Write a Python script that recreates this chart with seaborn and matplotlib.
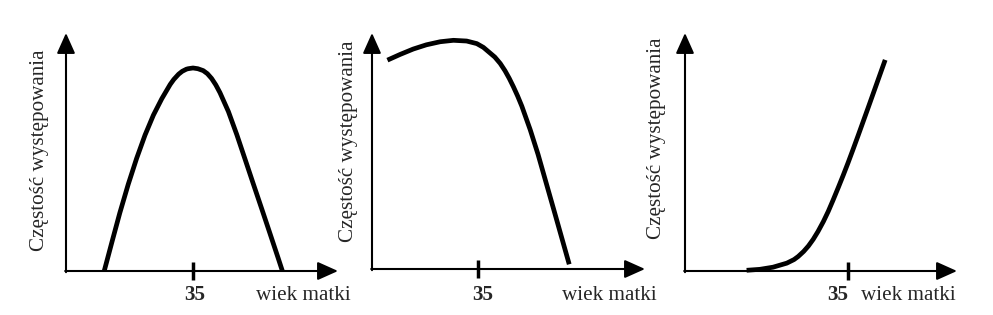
import matplotlib
matplotlib.use("Agg")
import matplotlib.pyplot as plt
import seaborn as sns
import pandas as pd

# ---------------- data (age of mother vs. frequency, arbitrary units) ----------------
age1 = [20.2, 21.5, 22.8, 24.2, 25.6, 27.0, 28.4, 29.8, 31.2, 31.8, 32.6, 33.2,
        33.9, 34.2, 35.0, 35.8, 36.7, 37.4, 38.1, 38.8, 39.5, 40.9, 42.3, 43.7,
        45.0, 46.5, 47.8, 49.2, 49.9]
freq1 = [0.0, 12.3, 24.4, 36.4, 47.3, 57.1, 65.5, 72.4, 78.4, 80.5, 82.7, 83.9,
         84.8, 85.0, 85.3, 85.0, 84.2, 82.9, 80.9, 78.2, 74.9, 67.0, 57.3, 46.8,
         37.0, 25.8, 16.0, 5.4, 0.0]

age2 = [19.9, 22.0, 24.2, 26.4, 28.7, 30.9, 33.1, 34.8, 35.9, 37.8, 38.7, 39.5,
        40.2, 40.9, 41.6, 42.3, 43.7, 45.0, 46.4, 47.8, 49.2, 50.2]
freq2 = [88.5, 90.9, 93.2, 95.0, 96.3, 96.9, 96.6, 95.5, 93.9, 89.8, 87.1, 84.0,
         80.8, 77.2, 73.3, 69.0, 59.0, 48.6, 36.1, 23.6, 11.0, 2.0]

age3 = [18.1, 20.3, 22.5, 24.8, 26.0, 26.7, 27.6, 28.4, 29.2, 30.0, 30.9, 31.7,
        32.5, 33.4, 34.2, 35.0, 35.8, 36.7, 38.4, 39.8, 41.2]
freq3 = [0.3, 0.7, 1.6, 3.3, 4.8, 6.1, 8.2, 10.5, 13.3, 16.6, 20.8, 25.0,
         29.7, 35.2, 40.2, 45.4, 50.8, 57.0, 68.9, 78.8, 88.7]

tick_value = 35
tick_label = "35"
x_label = "wiek matki"
y_label = "Częstość występowania"

# ---------------- style ----------------
sns.set_style("white")
plt.rcParams["font.family"] = ["Liberation Serif", "DejaVu Serif"]

W, H = 993, 315
fig = plt.figure(figsize=(W / 100, H / 100), dpi=100)
fig.patch.set_facecolor("white")


def fx(px):
    return px / W


def fy(py):
    return 1 - py / H


# layout per panel: (left px, right px, bottom px, top px, xlim,
#                    y-label centre, "35" centre x, x-label left x)
layout = [
    dict(box=(66, 338, 271, 33), xlim=(13.83, 59.17), ylab=(40, 150), num_x=195, xlab_x=256),
    dict(box=(372, 645, 269, 33), xlim=(17.33, 62.83), ylab=(349, 141), num_x=483, xlab_x=562),
    dict(box=(685, 957, 271, 33), xlim=(7.83, 53.17), ylab=(656, 138), num_x=838, xlab_x=861),
]
series = [(age1, freq1), (age2, freq2), (age3, freq3)]

arrow_kw = dict(arrowstyle="-|>,head_length=1.25,head_width=0.56", mutation_scale=10,
                lw=1.5, color="black", shrinkA=0, shrinkB=0)

for lay, (ages, freqs) in zip(layout, series):
    l, r, b, t = lay["box"]
    ax = fig.add_axes([fx(l), fy(b), (r - l) / W, (b - t) / H])
    ax.set_facecolor("none")
    df = pd.DataFrame({"wiek": ages, "czestosc": freqs})
    sns.lineplot(data=df, x="wiek", y="czestosc", ax=ax, color="black",
                 linewidth=3.4, estimator=None, sort=False,
                 solid_capstyle="butt", solid_joinstyle="round", clip_on=False)
    ax.set_xlim(*lay["xlim"])
    ax.set_ylim(0, 100)
    for s in ax.spines.values():
        s.set_visible(False)
    ax.set_xlabel("")
    ax.set_ylabel("")
    ax.set_yticks([])
    ax.set_xticks([tick_value], labels=[""])
    ax.tick_params(axis="x", which="major", bottom=True, direction="inout",
                   length=12.5, width=2.5, color="black")
    ax.tick_params(axis="y", left=False)
    # axes with arrows
    ax.annotate("", xy=(1, 0), xytext=(-0.003, 0), xycoords="axes fraction",
                arrowprops=arrow_kw, annotation_clip=False)
    ax.annotate("", xy=(0, 1), xytext=(0, -0.005), xycoords="axes fraction",
                arrowprops=arrow_kw, annotation_clip=False)

    fig.text(fx(lay["ylab"][0]), fy(lay["ylab"][1]), y_label, rotation=90,
             ha="center", va="center", fontsize=15.2)
    fig.text(fx(lay["num_x"]), fy(300), tick_label, ha="center", va="baseline",
             fontsize=15.2, fontweight="bold")
    fig.text(fx(lay["xlab_x"]), fy(300), x_label, ha="left", va="baseline",
             fontsize=15.2)

fig.savefig("out.png", dpi=100, facecolor="white")
